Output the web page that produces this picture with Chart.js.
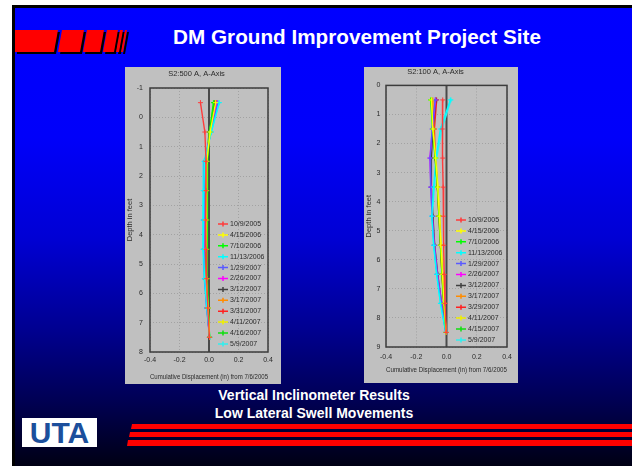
<!DOCTYPE html>
<html>
<head>
<meta charset="utf-8">
<title>DM Ground Improvement Project Site</title>
<script src="https://cdn.jsdelivr.net/npm/chart.js@4.4.1/dist/chart.umd.min.js"></script>
<style>
  html, body { margin: 0; padding: 0; width: 632px; height: 466px; overflow: hidden; background: #fff;
    font-family: "Liberation Sans", Arial, sans-serif; }
  #slide { position: absolute; left: 12px; top: 5px; width: 623px; height: 466px; box-sizing: border-box;
    border: 3px solid #000;
    background: linear-gradient(to bottom, #0000ff 0%, #0000fa 28%, #0000d4 50%, #000090 70%, #000055 85%, #000012 100%); }
  #deco { position: absolute; left: 0; top: 0; }
  .heading { position: absolute; color: #fff; font-weight: bold; text-align: center; white-space: nowrap; }
  #title { left: 107px; width: 500px; top: 25px; font-size: 20.7px; line-height: 24px; }
  #sub1 { left: 114px; width: 400px; top: 386px; font-size: 14px; line-height: 18px; }
  #sub2 { left: 114px; width: 400px; top: 404px; font-size: 14px; line-height: 18px; }
  #logo { position: absolute; left: 22px; top: 418px; width: 75px; height: 29px; background: #fff;
    color: #1c4f9c; font-weight: bold; font-size: 30px; line-height: 30px; text-align: center; letter-spacing: 0px; }
  canvas.panel { position: absolute; background: #c0c0c0; }
  #s500 { left: 125px; top: 67px; }
  #s100 { left: 364px; top: 67px; }
</style>
</head>
<body>
<div id="slide"></div>
<svg id="deco" width="632" height="466">
  <g fill="#000" transform="translate(2,2)">
    <polygon points="15,30 58,30 54,52 15,52"/>
    <polygon points="62,30 84,30 80,52 58,52"/>
    <polygon points="87,30 104,30 100,52 83,52"/>
    <polygon points="107,30 118,30 114,52 103,52"/>
    <polygon points="120,30 123,30 119,52 116,52"/>
    <polygon points="125,30 127,30 123,52 121,52"/>
  </g>
  <g fill="#ff0000">
    <polygon points="15,30 58,30 54,52 15,52"/>
    <polygon points="62,30 84,30 80,52 58,52"/>
    <polygon points="87,30 104,30 100,52 83,52"/>
    <polygon points="107,30 118,30 114,52 103,52"/>
    <polygon points="120,30 123,30 119,52 116,52"/>
    <polygon points="125,30 127,30 123,52 121,52"/>
  </g>
  <g fill="#ff0000">
    <polygon points="132,424 632,424 632,429 131,429"/>
    <polygon points="130,432 632,432 632,437 129,437"/>
    <polygon points="128,440 632,440 632,446 127,446"/>
  </g>
</svg>
<div id="title" class="heading">DM Ground Improvement Project Site</div>
<div id="sub1" class="heading">Vertical Inclinometer Results</div>
<div id="sub2" class="heading">Low Lateral Swell Movements</div>
<div id="logo">UTA</div>

<canvas id="s500" class="panel" width="156" height="317"></canvas>
<canvas id="s100" class="panel" width="154" height="316"></canvas>

<script>
// S2:500 A, A-Axis - reading depths (ft) and survey dates
const s500Depths = [-0.5, 0.5, 1.5, 2.5, 3.5, 4.5, 5.5, 6.5, 7.5];
const s500Dates = ['10/9/2005', '4/15/2006', '7/10/2006', '11/13/2006', '1/29/2007', '2/26/2007',
                   '3/12/2007', '3/17/2007', '3/31/2007', '4/11/2007', '4/16/2007', '5/9/2007'];
// cumulative displacement (in), one row per survey date
const s500Values = [
  [-0.058, -0.028, -0.020, -0.020, -0.022, -0.020, -0.016, -0.008, 0.003],
  [ 0.045,  0.008, -0.015, -0.018, -0.020, -0.020, -0.015, -0.006, 0.004],
  [ 0.030,  0.005, -0.010, -0.012, -0.012, -0.012, -0.010, -0.004, 0.004],
  [ 0.070,  0.015, -0.030, -0.035, -0.038, -0.038, -0.030, -0.015, 0.006],
  [ 0.060,  0.012, -0.028, -0.032, -0.035, -0.036, -0.030, -0.016, 0.004],
  [ 0.055,  0.010, -0.025, -0.030, -0.033, -0.034, -0.028, -0.014, 0.004],
  [ 0.040,  0.006, -0.018, -0.022, -0.024, -0.024, -0.020, -0.010, 0.003],
  [ 0.045,  0.008, -0.022, -0.026, -0.028, -0.028, -0.022, -0.012, 0.004],
  [ 0.050,  0.010, -0.020, -0.024, -0.026, -0.026, -0.020, -0.010, 0.004],
  [ 0.040,  0.004, -0.020, -0.026, -0.030, -0.030, -0.024, -0.012, 0.004],
  [ 0.035,  0.002, -0.022, -0.028, -0.032, -0.032, -0.026, -0.013, 0.004],
  [ 0.068,  0.016, -0.035, -0.040, -0.042, -0.042, -0.033, -0.016, 0.006]
];

// S2:100 A, A-Axis
const s100Depths = [0.5, 1.5, 2.5, 3.5, 4.5, 5.5, 6.5, 7.5, 8.5];
const s100Dates = ['10/9/2005', '4/15/2006', '7/10/2006', '11/13/2006', '1/29/2007', '2/26/2007',
                   '3/12/2007', '3/17/2007', '3/29/2007', '4/11/2007', '4/15/2007', '5/9/2007'];
const s100Values = [
  [-0.025, -0.028, -0.025, -0.022, -0.020, -0.018, -0.015, -0.010, -0.002],
  [-0.100, -0.090, -0.072, -0.058, -0.047, -0.037, -0.027, -0.016, -0.003],
  [-0.105, -0.092, -0.075, -0.060, -0.050, -0.040, -0.030, -0.018, -0.004],
  [ 0.025, -0.040, -0.070, -0.085, -0.097, -0.085, -0.065, -0.040, -0.005],
  [-0.075, -0.095, -0.108, -0.105, -0.095, -0.082, -0.062, -0.035, -0.005],
  [-0.072, -0.093, -0.110, -0.103, -0.094, -0.080, -0.060, -0.033, -0.004],
  [-0.070, -0.090, -0.100, -0.100, -0.090, -0.078, -0.058, -0.032, -0.004],
  [-0.090, -0.085, -0.072, -0.060, -0.050, -0.040, -0.030, -0.018, -0.003],
  [-0.065, -0.080, -0.075, -0.060, -0.050, -0.040, -0.030, -0.018, -0.003],
  [-0.100, -0.088, -0.070, -0.056, -0.045, -0.035, -0.025, -0.015, -0.002],
  [-0.098, -0.090, -0.074, -0.060, -0.048, -0.038, -0.028, -0.017, -0.003],
  [ 0.030, -0.030, -0.065, -0.080, -0.095, -0.085, -0.065, -0.040, -0.005]
];

const xTicks = [-0.4, -0.2, 0.0, 0.2, 0.4];
const traceColors = ['#ff3c3c', '#ffff00', '#00ff00', '#00ffff', '#5a5aff', '#ff00ff',
                     '#404040', '#ff8c00', '#ff2020', '#f0f000', '#10e010', '#30f0f0'];

Chart.defaults.font.family = '"Liberation Sans", Arial, sans-serif';
Chart.defaults.color = '#2a2a2a';

// frame around the plot plus the dark zero line
function framePlugin() {
  return {
    id: 'frame',
    beforeDatasetsDraw(chart) {
      const {ctx, chartArea: a, scales} = chart;
      const x0 = scales.x.getPixelForValue(0);
      ctx.save();
      ctx.strokeStyle = '#4a4a4a';
      ctx.lineWidth = 2;
      ctx.beginPath();
      ctx.moveTo(x0, a.top);
      ctx.lineTo(x0, a.bottom);
      ctx.stroke();
      ctx.restore();
    },
    afterDraw(chart) {
      const {ctx, chartArea: a} = chart;
      ctx.save();
      ctx.strokeStyle = '#3c3c3c';
      ctx.lineWidth = 1.5;
      ctx.strokeRect(a.left, a.top, a.right - a.left, a.bottom - a.top);
      ctx.restore();
    }
  };
}

// legend drawn inside the plot, lower right
function legendPlugin(px, py, gap) {
  return {
    id: 'insetLegend',
    afterDatasetsDraw(chart) {
      const ctx = chart.ctx;
      ctx.save();
      ctx.font = '7px "Liberation Sans", Arial, sans-serif';
      ctx.textBaseline = 'middle';
      chart.data.datasets.forEach((ds, i) => {
        const y = py + i * gap;
        ctx.strokeStyle = ds.borderColor;
        ctx.lineWidth = 1.5;
        ctx.beginPath();
        ctx.moveTo(px, y);
        ctx.lineTo(px + 10, y);
        ctx.moveTo(px + 5, y - 2.5);
        ctx.lineTo(px + 5, y + 2.5);
        ctx.stroke();
        ctx.fillStyle = '#2a2a2a';
        ctx.fillText(ds.label, px + 12, y);
      });
      ctx.restore();
    }
  };
}

function buildChart(id, title, depths, dates, values, yMin, yMax, lay) {
  const datasets = dates.map((d, i) => ({
    label: d,
    data: depths.map((z, k) => ({x: values[i][k], y: z})),
    borderColor: traceColors[i],
    backgroundColor: traceColors[i],
    borderWidth: 1.4,
    pointStyle: 'cross',
    pointRadius: 2.5,
    pointBorderWidth: 1,
    showLine: true,
    fill: false
  }));

  return new Chart(document.getElementById(id), {
    type: 'scatter',
    data: { datasets },
    options: {
      responsive: false,
      animation: false,
      layout: { padding: { right: lay.right, left: 0, top: 0, bottom: 0 } },
      plugins: {
        legend: { display: false },
        tooltip: { enabled: false },
        title: {
          display: true,
          text: title,
          color: '#2a2a2a',
          font: { size: 7.5, weight: 'normal' },
          padding: { top: lay.titleTop, bottom: lay.titleBottom }
        }
      },
      scales: {
        x: {
          type: 'linear',
          min: -0.4,
          max: 0.4,
          afterBuildTicks(scale) { scale.ticks = xTicks.map(v => ({value: v})); },
          afterFit(scale) { scale.height = lay.xHeight; },
          ticks: {
            font: { size: 7 },
            padding: lay.xPad,
            callback: v => v.toFixed(1)
          },
          grid: { color: '#a2a2a2', lineWidth: 1, drawTicks: false },
          border: { display: false, dash: [1, 2] },
          title: {
            display: true,
            text: 'Cumulative Displacement (in) from 7/6/2005',
            font: { size: 7 },
            padding: { top: 0, bottom: lay.xTitlePad }
          }
        },
        y: {
          type: 'linear',
          reverse: true,
          min: yMin,
          max: yMax,
          afterFit(scale) { scale.width = lay.yWidth; },
          ticks: { stepSize: 1, font: { size: 7 }, padding: lay.yPad },
          grid: { color: '#a2a2a2', lineWidth: 1, drawTicks: false },
          border: { display: false, dash: [1, 2] },
          title: {
            display: true,
            text: 'Depth in feet',
            font: { size: 7.5 },
            padding: { top: lay.yTitlePad, bottom: 0 }
          }
        }
      }
    },
    plugins: [framePlugin(), legendPlugin(lay.legX, lay.legY, 10.9)]
  });
}

buildChart('s500', 'S2:500 A, A-Axis', s500Depths, s500Dates, s500Values, -1, 8, {
  right: 13, titleTop: 2, titleBottom: 10, xHeight: 32, xPad: 4, xTitlePad: 2.5,
  yWidth: 25, yPad: 7, yTitlePad: 0.5, legX: 93, legY: 157
});

buildChart('s100', 'S2:100 A, A-Axis', s100Depths, s100Dates, s100Values, 0, 9, {
  right: 11, titleTop: 0, titleBottom: 9.4, xHeight: 36, xPad: 5.5, xTitlePad: 8.5,
  yWidth: 22, yPad: 5.5, yTitlePad: 0, legX: 92, legY: 153
});
</script>
</body>
</html>
